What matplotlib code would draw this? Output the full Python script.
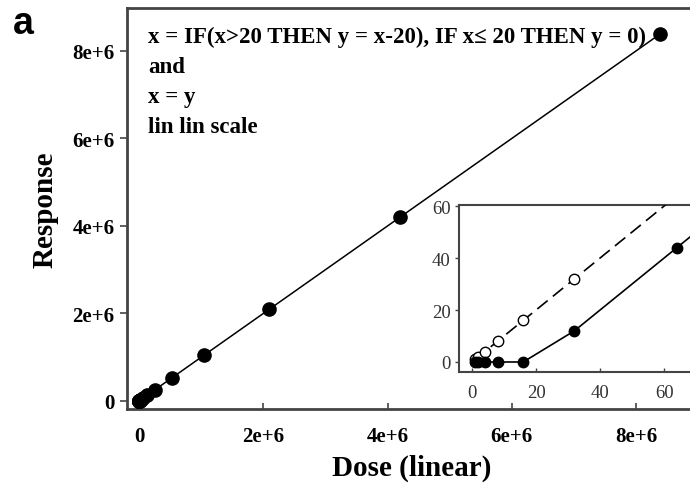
import matplotlib.pyplot as plt

# doses: doubling series 1 .. 2^23
dose = [1, 2, 4, 8, 16, 32, 64, 128, 256, 512, 1024, 2048, 4096, 8192,
        16384, 32768, 65536, 131072, 262144, 524288, 1048576, 2097152,
        4194304, 8388608]
resp_thresh = [0, 0, 0, 0, 0, 12, 44, 108, 236, 492, 1004, 2028, 4076,
               8172, 16364, 32748, 65516, 131052, 262124, 524268, 1048556,
               2097132, 4194284, 8388588]
resp_linear = dose

main_xticks = [0, 2e6, 4e6, 6e6, 8e6]
main_xlabels = ["0", "2e+6", "4e+6", "6e+6", "8e+6"]
main_yticks = [0, 2e6, 4e6, 6e6, 8e6]
main_ylabels = ["0", "2e+6", "4e+6", "6e+6", "8e+6"]
inset_ticks = [0, 20, 40, 60]

note_lines = ["x = IF(x>20 THEN y = x-20), IF x\u2264 20 THEN y = 0)",
              "and", "x = y", "lin lin scale"]

serif = ["Liberation Serif", "DejaVu Serif"]
spine_col = "#444444"

fig = plt.figure(figsize=(6.9, 4.89), dpi=100)

# main axes
ax = fig.add_axes([127 / 690, 79 / 489, 570 / 690, 401 / 489])
ax.plot(dose, resp_thresh, color="black", linewidth=1.1, marker="o",
        markersize=9.5, zorder=3)
ax.set_xlim(-0.194e6, 8.98e6)
ax.set_ylim(-0.183e6, 8.98e6)
ax.set_xticks(main_xticks)
ax.set_xticklabels(main_xlabels)
ax.set_yticks(main_yticks)
ax.set_yticklabels(main_ylabels)
ax.tick_params(axis="x", direction="in", length=4, width=1.2, color=spine_col, pad=12)
ax.tick_params(axis="y", direction="out", length=5, width=1.2, color=spine_col, pad=4)
for lab in ax.get_xticklabels() + ax.get_yticklabels():
    lab.set_family(serif)
    lab.set_fontweight("bold")
    lab.set_fontsize(15)
ax.spines["right"].set_visible(False)
for s in ["left", "bottom", "top"]:
    ax.spines[s].set_linewidth(2)
    ax.spines[s].set_color(spine_col)
ax.set_xlabel("Dose (linear)", family=serif, fontweight="bold", fontsize=21,
              labelpad=6)
ax.set_ylabel("Response", family=serif, fontweight="bold", fontsize=21,
              labelpad=10)

for i, line in enumerate(note_lines):
    ax.text(0.037, 0.93 - i * 0.075, line, transform=ax.transAxes,
            family=serif, fontweight="bold", fontsize=16.5, va="center",
            ha="left")

fig.text(13 / 690, 1 - 24 / 489, "a", family=["Liberation Sans", "DejaVu Sans"],
         fontweight="bold", fontsize=27, va="center", ha="left")

# inset
ins = fig.add_axes([459 / 690, 116 / 489, 240 / 690, 167 / 489])
ins.plot(dose, resp_linear, color="black", linewidth=1.2, linestyle=(0, (8, 4)),
         marker="o", markersize=7.5, markerfacecolor="white",
         markeredgecolor="black", markeredgewidth=1.0, zorder=3)
ins.plot(dose, resp_thresh, color="black", linewidth=1.2, marker="o",
         markersize=7.5, zorder=4)
ins.set_xlim(-4.06, 70.9)
ins.set_ylim(-3.85, 60.4)
ins.set_xticks(inset_ticks)
ins.set_yticks(inset_ticks)
ins.tick_params(axis="x", direction="in", length=3, width=1, color=spine_col,
                labelsize=13.5, labelcolor="#333333", pad=9)
ins.tick_params(axis="y", direction="out", length=3, width=1, color=spine_col,
                labelsize=13.5, labelcolor="#333333", pad=3)
for lab in ins.get_xticklabels() + ins.get_yticklabels():
    lab.set_family(serif)
ins.spines["right"].set_visible(False)
for s in ["left", "bottom", "top"]:
    ins.spines[s].set_linewidth(1.5)
    ins.spines[s].set_color(spine_col)

fig.savefig("out.png", dpi=100)
